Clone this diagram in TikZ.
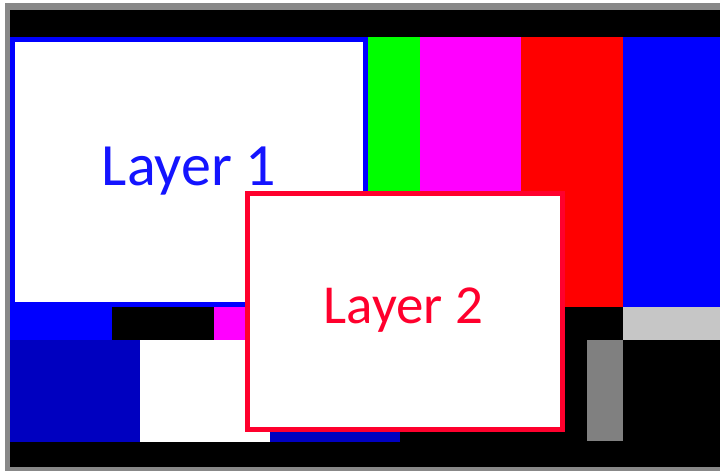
\documentclass[tikz,border=0pt]{standalone}
\usepackage{fontspec}
\setmainfont{Carlito}
\definecolor{barblue}{RGB}{0,0,255}
\definecolor{bargreen}{RGB}{0,255,0}
\definecolor{barmagenta}{RGB}{255,0,255}
\definecolor{barred}{RGB}{255,0,0}
\definecolor{barcyan}{RGB}{0,255,255}
\definecolor{darkblue}{RGB}{0,0,192}
\definecolor{lightgray}{RGB}{198,198,198}
\definecolor{midgray}{RGB}{128,128,128}
\definecolor{framegray}{RGB}{136,136,136}
\definecolor{layerone}{RGB}{20,20,255}
\definecolor{layertwo}{RGB}{255,0,45}
\begin{document}
\begin{tikzpicture}[x=1pt,y=-1pt,
  bar/.style={fill=#1,draw=none},
  layerbox/.style={fill=white,draw=#1,line width=5pt},
  layertext/.style={text=#1,inner sep=0pt,anchor=base}]
\useasboundingbox (0,0) rectangle (720,471);
% outer frame
\fill[white] (0,0) rectangle (720,471);
\fill[framegray] (5,3) rectangle (720,471);
% top and bottom black bands
\fill[black] (10,10) rectangle (720,467);
% upper colour bars
\fill[bar=bargreen]   (365,37) rectangle (420,307);
\fill[bar=barmagenta] (420,37) rectangle (521,307);
\fill[bar=barred]     (521,37) rectangle (623,307);
\fill[bar=barblue]    (623,37) rectangle (720,307);
% middle strip
\fill[bar=barblue]    (10,307) rectangle (112,340);
\fill[bar=black]      (112,307) rectangle (214,340);
\fill[bar=barmagenta] (214,307) rectangle (316,340);
\fill[bar=black]      (316,307) rectangle (418,340);
\fill[bar=barcyan]    (418,307) rectangle (521,340);
\fill[bar=black]      (521,307) rectangle (623,340);
\fill[bar=lightgray]  (623,307) rectangle (720,340);
% lower row
\fill[bar=darkblue]   (10,340) rectangle (140,442);
\fill[bar=white]      (140,340) rectangle (270,442);
\fill[bar=darkblue]   (270,340) rectangle (400,442);
\fill[bar=black]      (400,340) rectangle (720,442);
\fill[bar=midgray]    (587,340) rectangle (623,441);
% layer 1
\draw[layerbox=barblue] (12.5,39.5) rectangle (365.5,304.5);
\node[layertext=layerone,font=\fontsize{60}{64}\selectfont] (l1) at (189,185) {Layer 1};
% layer 2
\draw[layerbox=layertwo] (247.5,193.5) rectangle (562.5,429.5);
\node[layertext=layertwo,font=\fontsize{55}{60}\selectfont] (l2) at (403.5,323) {Layer 2};
\end{tikzpicture}
\end{document}
